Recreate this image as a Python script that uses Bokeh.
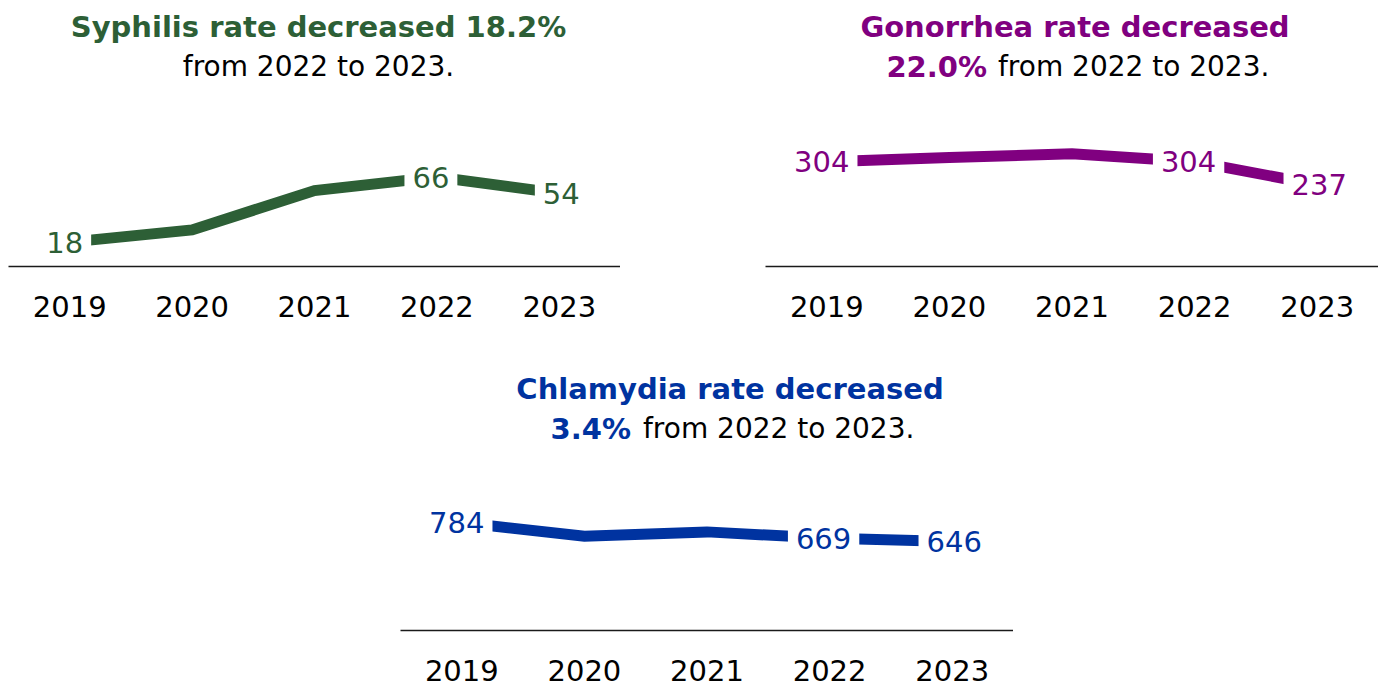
from bokeh.plotting import figure
from bokeh.models import ColumnDataSource, FactorRange, Range1d, Spacer
from bokeh.layouts import row, column
from bokeh.embed import file_html
from bokeh.resources import INLINE
from bokeh.core.properties import value

# ---- data ----
years = ["2019", "2020", "2021", "2022", "2023"]
syphilis = [18, 27, 56, 66, 54]
gonorrhea = [304, 316, 327, 304, 237]
chlamydia = [784, 684, 716, 669, 646]
labeled_years = ["2019", "2022", "2023"]

syph_title = ("Syphilis rate decreased 18.2%", "", "from 2022 to 2023.")
gono_title = ("Gonorrhea rate decreased", "22.0%", "from 2022 to 2023.")
chla_title = ("Chlamydia rate decreased", "3.4%", "from 2022 to 2023.")

FONT = "DejaVu Sans"
LABEL_NUDGE = [-5, -6, 2]  # horizontal pixel nudges of the value labels


def make_chart(vals, color, titles, ymax, frame_w, frame_h, top_border,
               bottom_border, t1_px, t2_px, cx_off, split_bold_right,
               split_rest_left):
    p = figure(x_range=FactorRange(factors=years, range_padding=0),
               y_range=Range1d(0, ymax),
               frame_width=frame_w, frame_height=frame_h,
               min_border_left=0, min_border_right=0,
               min_border_top=top_border, min_border_bottom=bottom_border,
               y_axis_location=None, toolbar_location=None,
               output_backend="svg", background_fill_color="white",
               border_fill_color="white", outline_line_color=None)
    p.xgrid.visible = False
    p.ygrid.visible = False
    ax = p.xaxis[0]
    ax.axis_line_color = "#1a1a1a"
    ax.axis_line_width = 1.5
    ax.major_tick_line_color = None
    ax.minor_tick_line_color = None
    ax.major_tick_out = 0
    ax.major_label_standoff = 29
    ax.major_label_text_font = FONT
    ax.major_label_text_font_size = "29px"
    ax.major_label_text_color = "black"

    p.line(x=years, y=vals, line_width=11, line_color=color, line_join="miter")

    lab_vals = [vals[years.index(y)] for y in labeled_years]
    src = ColumnDataSource(dict(x=labeled_years, y=lab_vals,
                                t=[str(v) for v in lab_vals],
                                dx=LABEL_NUDGE))
    p.text(x="x", y="y", text="t", source=src, x_offset="dx",
           text_font=value(FONT),
           text_font_size="29px", text_color=color, text_align="center",
           text_baseline="middle", background_fill_color="white",
           padding=8)

    def ypos(px):
        return ymax - px * ymax / frame_h

    line1, bold2, rest2 = titles
    p.text(x=["2021"], y=[ypos(t1_px)], text=[line1], text_font=value(FONT),
           text_font_style="bold", text_font_size="29px", text_color=color,
           text_align="center", text_baseline="alphabetic", x_offset=cx_off)
    if bold2:
        p.text(x=["2021"], y=[ypos(t2_px)], text=[bold2], text_font=value(FONT),
               text_font_style="bold", text_font_size="29px", text_color=color,
               text_align="right", text_baseline="alphabetic",
               x_offset=split_bold_right)
        p.text(x=["2021"], y=[ypos(t2_px)], text=[rest2], text_font=value(FONT),
               text_font_size="28px", text_color="black",
               text_align="left", text_baseline="alphabetic",
               x_offset=split_rest_left)
    else:
        p.text(x=["2021"], y=[ypos(t2_px)], text=[rest2], text_font=value(FONT),
               text_font_size="28px", text_color="black",
               text_align="center", text_baseline="alphabetic", x_offset=cx_off)
    return p


f1 = make_chart(syphilis, "#2D5F36", syph_title, 190.4, 612, 258, 8, 72,
                18, 58, 4, 0, 0)
f2 = make_chart(gonorrhea, "#800080", gono_title, 748, 613, 258, 8, 72,
                18, 58, 3, -85, -74)
f3 = make_chart(chlamydia, "#0033A0", chla_title, 2120, 613, 292, 0, 56,
                50, 90, 23, -76, -64)

layout = column(row(Spacer(width=8), f1, Spacer(width=145), f2),
                row(Spacer(width=400), f3))

open("out.html", "w").write(file_html(layout, INLINE))
